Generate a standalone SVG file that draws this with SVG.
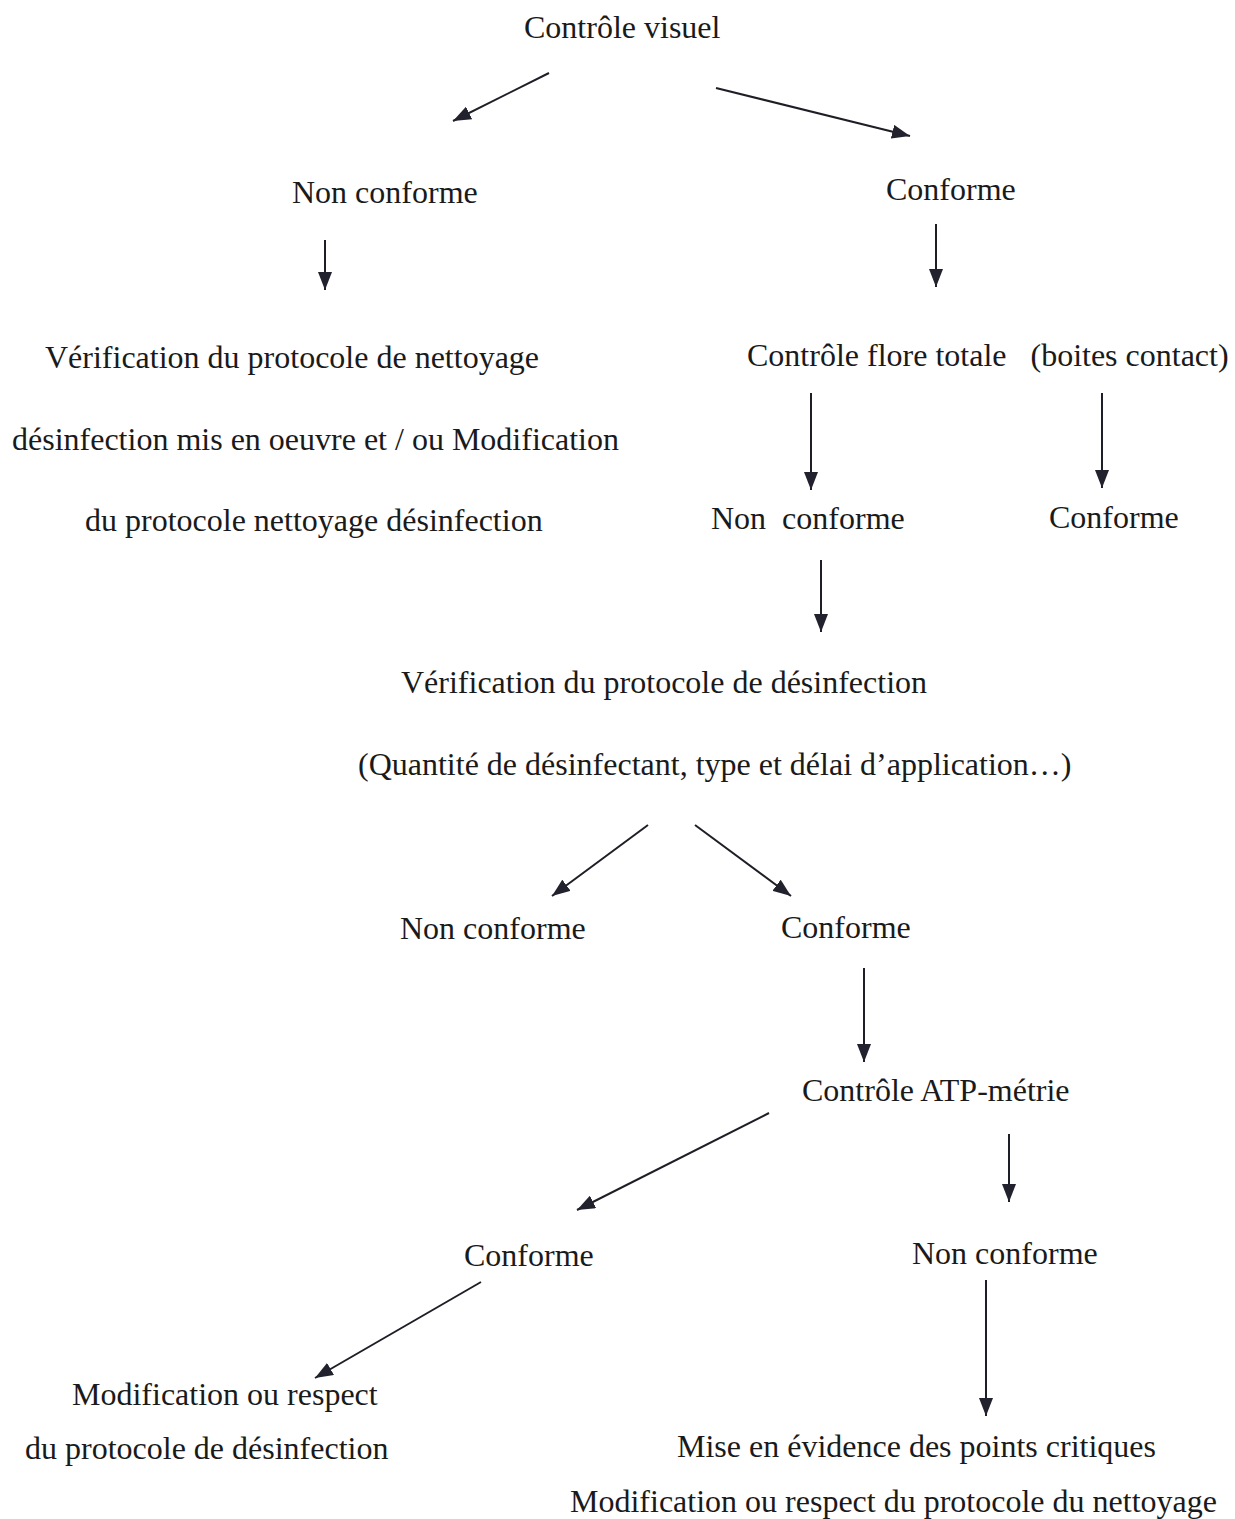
<svg xmlns="http://www.w3.org/2000/svg" width="1235" height="1519" viewBox="0 0 1235 1519">
<defs>
<style>
text{font-family:"Liberation Serif","Times New Roman",serif;font-size:32px;fill:#1a1a1a}
.c line{stroke:#1e1e26;stroke-width:2;marker-end:url(#ah)}
</style>
<marker id="ah" viewBox="0 0 18 14" refX="18" refY="7" markerWidth="18" markerHeight="14" markerUnits="userSpaceOnUse" orient="auto">
<path d="M0,0 L18,7 L0,14 Z" fill="#22222e"/>
</marker>
</defs>
<rect width="1235" height="1519" fill="#fff"/>
<g id="connectors" class="c">
<line x1="549" y1="73" x2="453" y2="121"/>
<line x1="716" y1="88" x2="910" y2="136"/>
<line x1="325" y1="240" x2="325" y2="290"/>
<line x1="936" y1="224" x2="936" y2="287"/>
<line x1="811" y1="393" x2="811" y2="490"/>
<line x1="1102" y1="393" x2="1102" y2="488"/>
<line x1="821" y1="560" x2="821" y2="632"/>
<line x1="648" y1="825" x2="552" y2="896"/>
<line x1="695" y1="825" x2="791" y2="896"/>
<line x1="864" y1="968" x2="864" y2="1062"/>
<line x1="769" y1="1113" x2="577" y2="1210"/>
<line x1="1009" y1="1134" x2="1009" y2="1202"/>
<line x1="481" y1="1282" x2="315" y2="1378"/>
<line x1="986" y1="1280" x2="986" y2="1416"/>
</g>
<g id="n-controle-visuel"><text x="524" y="38">Contrôle visuel</text></g>
<g id="n-nonconf-1"><text x="292" y="203">Non conforme</text></g>
<g id="n-conf-1"><text x="886" y="200">Conforme</text></g>
<g id="n-verif-nettoyage">
<text x="45" y="368">Vérification du protocole de nettoyage</text>
<text x="12" y="450">désinfection mis en oeuvre et / ou Modification</text>
<text x="85" y="531">du protocole nettoyage désinfection</text>
</g>
<g id="n-flore"><text x="747" y="366" xml:space="preserve">Contrôle flore totale   (boites contact)</text></g>
<g id="n-nonconf-2"><text x="711" y="529" xml:space="preserve">Non  conforme</text></g>
<g id="n-conf-2"><text x="1049" y="528">Conforme</text></g>
<g id="n-verif-desinf">
<text x="401" y="693">Vérification du protocole de désinfection</text>
<text x="358" y="775">(Quantité de désinfectant, type et délai d’application…)</text>
</g>
<g id="n-nonconf-3"><text x="400" y="939">Non conforme</text></g>
<g id="n-conf-3"><text x="781" y="938">Conforme</text></g>
<g id="n-atp"><text x="802" y="1101">Contrôle ATP-métrie</text></g>
<g id="n-conf-4"><text x="464" y="1266">Conforme</text></g>
<g id="n-nonconf-4"><text x="912" y="1264">Non conforme</text></g>
<g id="n-modif-desinf">
<text x="72" y="1405">Modification ou respect</text>
<text x="25" y="1459">du protocole de désinfection</text>
</g>
<g id="n-points-critiques">
<text x="677" y="1457">Mise en évidence des points critiques</text>
<text x="570" y="1512">Modification ou respect du protocole du nettoyage</text>
</g>
</svg>
